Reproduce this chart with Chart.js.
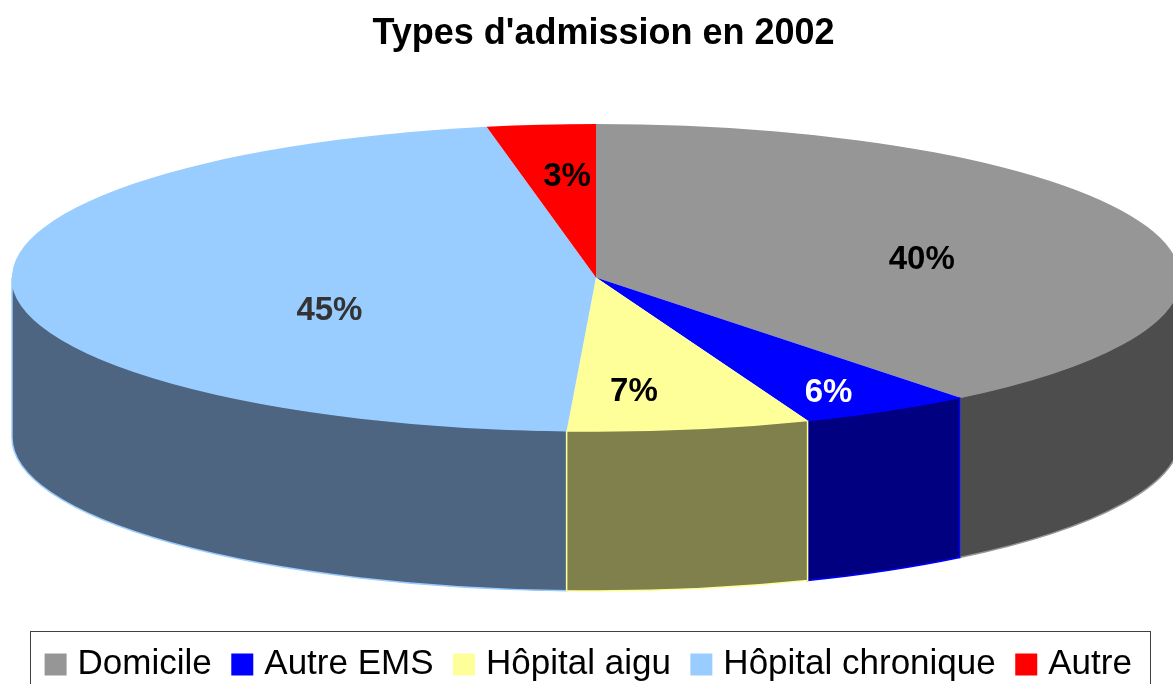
<!DOCTYPE html>
<html>
<head>
<meta charset="utf-8">
<title>Types d'admission en 2002</title>
<script src="https://cdn.jsdelivr.net/npm/chart.js@4"></script>
<style>
  html, body { margin: 0; padding: 0; background: #fff; overflow: hidden; }
  canvas { display: block; }
</style>
</head>
<body>
<canvas id="pie" width="1173" height="684"></canvas>
<script>
const categories = ['Domicile', 'Autre EMS', 'Hôpital aigu', 'Hôpital chronique', 'Autre'];
// slice widths as measured on the drawn ellipse, the original's perspective
// moves them a bit away from the printed percentages below
const shares = [39.3, 4.8, 6.7, 46.2, 3.0];
const printed = ['40%', '6%', '7%', '45%', '3%'];
const topColors = ['#969696', '#0000ff', '#ffff99', '#99ccff', '#ff0000'];
const wallColors = ['#4d4d4d', '#000080', '#80804d', '#4d6580', '#800000'];
const labelColors = ['#000000', '#ffffff', '#000000', '#333333', '#000000'];
const labelNudge = [[-5, 13], [58, 36], [-18, 23], [83, 27], [4, -9]];

const FONT = '"Liberation Sans", Arial, sans-serif';
const CX = 596, CY = 277.5, RX = 584, RY = 153.5, DEPTH = 160;

const pie3d = {
  id: 'pie3d',
  afterLayout(chart) {
    // the title sits right of the page centre in the original
    chart.titleBlock.left += 24;
  },
  beforeDatasetsDraw(chart) {
    const ctx = chart.ctx;
    const arcs = chart.getDatasetMeta(0).data;
    // back to front, so the yellow edges stay on top like in the original
    [0, 3, 1, 2, 4].forEach(i => {
      const a = arcs[i];
      const start = Math.max(a.startAngle, 0);
      const end = Math.min(a.endAngle, Math.PI);
      if (end <= start) return;
      ctx.beginPath();
      ctx.ellipse(CX, CY, RX, RY, 0, start, end);
      ctx.ellipse(CX, CY + DEPTH, RX, RY, 0, end, start, true);
      ctx.closePath();
      ctx.fillStyle = wallColors[i];
      ctx.fill();
      ctx.lineWidth = 1.5;
      ctx.strokeStyle = topColors[i];
      ctx.stroke();
    });
    // flatten the real pie into the top face
    const first = arcs[0];
    ctx.save();
    ctx.translate(CX, CY);
    ctx.scale(1, RY / RX);
    ctx.translate(-first.x, -first.y);
  },
  afterDatasetsDraw(chart) {
    const ctx = chart.ctx;
    ctx.restore();
    ctx.font = 'bold 33px ' + FONT;
    ctx.textAlign = 'center';
    ctx.textBaseline = 'middle';
    chart.getDatasetMeta(0).data.forEach((a, i) => {
      const mid = (a.startAngle + a.endAngle) / 2;
      ctx.fillStyle = labelColors[i];
      ctx.fillText(printed[i],
        CX + RX * 0.6 * Math.cos(mid) + labelNudge[i][0],
        CY + RY * 0.6 * Math.sin(mid) + labelNudge[i][1]);
    });
  },
  afterDraw(chart) {
    // legend frame, the bottom side falls off the page
    const ctx = chart.ctx;
    ctx.strokeStyle = '#404040';
    ctx.lineWidth = 1;
    ctx.strokeRect(30.5, 631.5, 1120, 70);
  }
};

new Chart(document.getElementById('pie'), {
  type: 'pie',
  plugins: [pie3d],
  data: {
    labels: categories,
    datasets: [{
      data: shares,
      backgroundColor: topColors,
      borderWidth: 0,
      radius: RX,
      clip: false
    }]
  },
  options: {
    responsive: false,
    animation: false,
    events: [],
    layout: { padding: { left: 10, bottom: -8 } },
    plugins: {
      tooltip: { enabled: false },
      title: {
        display: true,
        text: "Types d'admission en 2002",
        color: '#000000',
        font: { family: FONT, size: 36, weight: 'bold' },
        padding: { top: 12, bottom: 10 }
      },
      legend: {
        position: 'bottom',
        labels: {
          usePointStyle: true,
          pointStyle: 'rect',
          boxWidth: 9,
          boxHeight: 22,
          padding: 26,
          color: '#000000',
          font: { family: FONT, size: 35 }
        }
      }
    }
  }
});
</script>
</body>
</html>
